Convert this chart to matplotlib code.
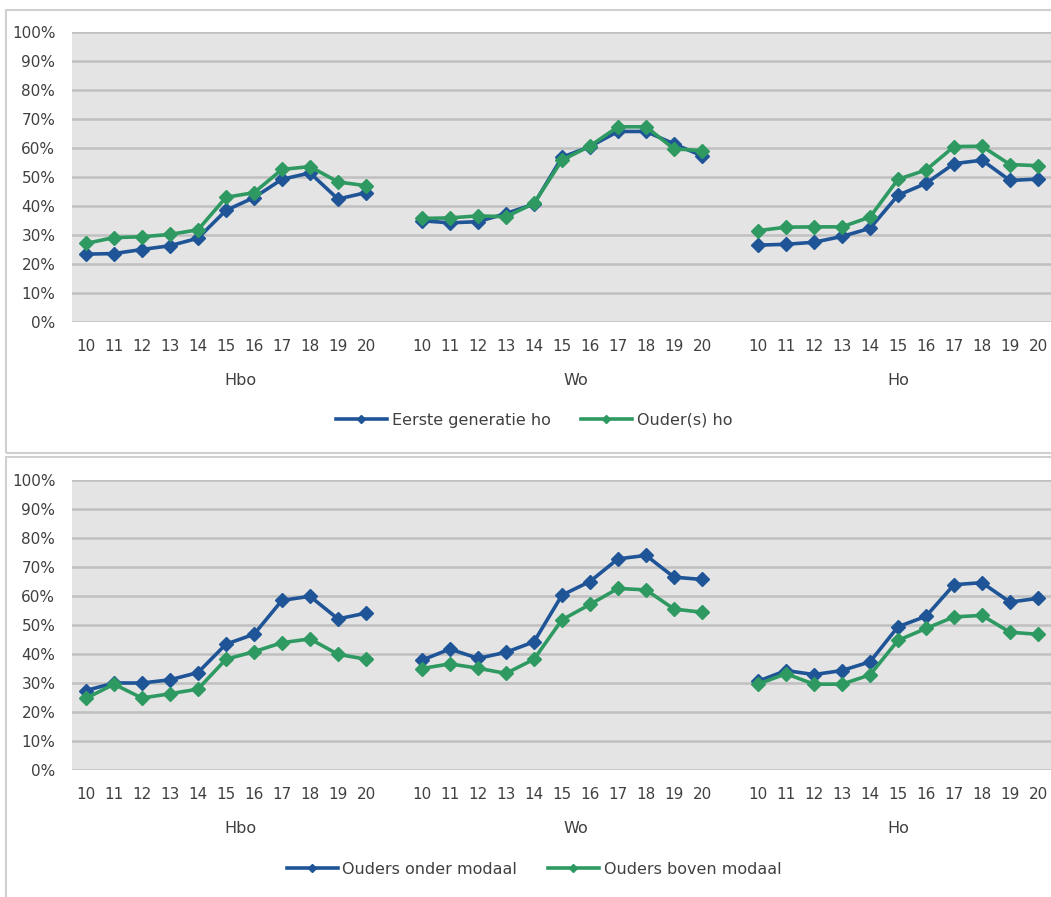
import matplotlib.pyplot as plt
import matplotlib.patches as patches
import matplotlib.transforms as mtransforms
from matplotlib.lines import Line2D

# years (cohort) and sectors
years = ['10', '11', '12', '13', '14', '15', '16', '17', '18', '19', '20']
groups = ['Hbo', 'Wo', 'Ho']

# top panel: eerste generatie vs ouder(s) ho
eerste_gen = [
    [23.4, 23.6, 25.0, 26.3, 28.9, 38.5, 42.9, 49.2, 51.4, 42.4, 44.6],
    [34.9, 34.2, 34.6, 37.4, 40.7, 56.8, 60.5, 65.7, 65.7, 61.4, 57.3],
    [26.5, 26.8, 27.5, 29.5, 32.3, 43.7, 47.8, 54.6, 55.8, 48.8, 49.3],
]
ouders_ho = [
    [27.1, 29.1, 29.4, 30.2, 31.8, 43.0, 44.6, 52.6, 53.6, 48.3, 47.0],
    [35.7, 35.9, 36.6, 36.3, 40.9, 55.8, 60.7, 67.3, 67.3, 59.7, 59.1],
    [31.5, 32.7, 32.8, 32.8, 36.2, 49.2, 52.4, 60.5, 60.6, 54.3, 53.9],
]

# bottom panel: onder vs boven modaal
onder_modaal = [
    [27.4, 30.0, 30.0, 31.1, 33.6, 43.4, 46.8, 58.5, 59.9, 52.1, 54.1],
    [37.9, 41.7, 38.5, 40.6, 44.2, 60.3, 65.0, 72.8, 74.0, 66.5, 65.7],
    [30.6, 34.3, 32.9, 34.3, 37.3, 49.4, 53.0, 63.9, 64.6, 57.9, 59.2],
]
boven_modaal = [
    [24.7, 29.6, 24.8, 26.3, 27.9, 38.2, 40.8, 43.9, 45.2, 39.9, 38.2],
    [35.0, 36.6, 35.1, 33.3, 38.2, 51.8, 57.1, 62.6, 62.1, 55.5, 54.4],
    [29.6, 33.2, 29.6, 29.6, 32.8, 44.7, 48.8, 52.8, 53.3, 47.5, 46.8],
]

BLUE = '#1f5597'
GREEN = '#2e9a62'
TXT = '#404040'

plt.rcParams['font.family'] = ['DejaVu Sans']

fig = plt.figure(figsize=(10.51, 8.97), dpi=100)
W, H = 1051, 897

# panel frames
for (x0, y0, x1, y1) in [(6, 10, 1060, 453), (6, 457, 1060, 905)]:
    fig.patches.append(patches.Rectangle((x0 / W, 1 - y1 / H), (x1 - x0) / W, (y1 - y0) / H,
                                         transform=fig.transFigure, fill=False,
                                         edgecolor='#d0d0d0', lw=1.5))

n = len(years)
step = n + 1


def draw(ax, s1, s2, lab1, lab2, legend_x, legend_y):
    ax.set_facecolor('#e4e4e4')
    for g in range(len(groups)):
        xs = [g * step + i for i in range(n)]
        ax.plot(xs, s1[g], color=BLUE, lw=2.6, marker='D', ms=7, zorder=3)
        ax.plot(xs, s2[g], color=GREEN, lw=2.6, marker='D', ms=7, zorder=4)
    ax.set_ylim(0, 100)
    ax.set_xlim(-0.5, len(groups) * step - 1.5)
    ax.set_yticks(range(0, 101, 10))
    ax.set_yticklabels([f'{v}%' for v in range(0, 101, 10)])
    xt = [g * step + i for g in range(len(groups)) for i in range(n)]
    ax.set_xticks(xt)
    ax.set_xticklabels(years * len(groups))
    ax.tick_params(length=0, colors=TXT, labelsize=11)
    ax.tick_params(axis='x', pad=12)
    ax.tick_params(axis='y', pad=12)
    ax.grid(axis='y', color='#c0c0c0', lw=1.8)
    ax.set_axisbelow(True)
    for sp in ax.spines.values():
        sp.set_visible(False)
    trans = mtransforms.blended_transform_factory(ax.transData, ax.transAxes)
    centers = [5.5, 17.5, 29]
    for c, name in zip(centers, groups):
        ax.text(c, -0.2, name, transform=trans, ha='center', va='center',
                fontsize=11.5, color=TXT)
    handles = [Line2D([], [], color=BLUE, lw=2.6, marker='D', ms=4.5),
               Line2D([], [], color=GREEN, lw=2.6, marker='D', ms=4.5)]
    fig.legend(handles, [lab1, lab2], loc='center', bbox_to_anchor=(legend_x, 1 - legend_y / H),
               ncol=2, frameon=False, fontsize=11.5, labelcolor=TXT,
               handlelength=3.2, columnspacing=1.9, handletextpad=0.3)


ax1 = fig.add_axes([72 / W, 1 - 322 / H, 980 / W, 290 / H])
draw(ax1, eerste_gen, ouders_ho, 'Eerste generatie ho', 'Ouder(s) ho', 0.508, 420)

ax2 = fig.add_axes([72 / W, 1 - 770 / H, 980 / W, 290 / H])
draw(ax2, onder_modaal, boven_modaal, 'Ouders onder modaal', 'Ouders boven modaal', 0.508, 869)

fig.savefig('out.png', dpi=100)
